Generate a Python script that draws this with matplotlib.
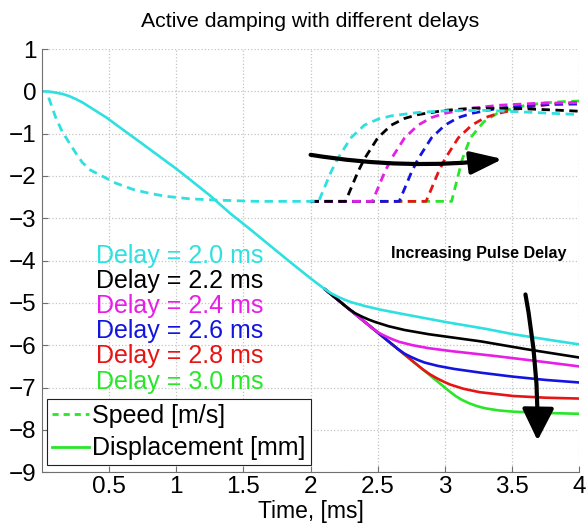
import numpy as np
import matplotlib.pyplot as plt
from matplotlib.lines import Line2D

plt.rcParams['font.family'] = ['Liberation Sans', 'DejaVu Sans']

# shared part of the curves (before any pulse)
base_speed_t = np.array([0.05, 0.1, 0.15, 0.2, 0.25, 0.3, 0.36, 0.44, 0.55, 0.68, 0.8, 0.92, 1.1, 1.3, 1.6, 2.0, 2.5, 3.0, 3.1])
base_speed_y = np.array([-0.15, -0.6, -0.95, -1.2, -1.45, -1.68, -1.86, -1.99, -2.17, -2.32, -2.41, -2.48, -2.54, -2.57, -2.6, -2.6, -2.6, -2.6, -2.6])

base_disp_t = np.array([0, 0.05, 0.1, 0.15, 0.2, 0.25, 0.3, 0.35, 0.42, 0.48, 0.6, 0.73, 0.85, 1.0, 1.1, 1.25, 1.4, 1.55, 1.7, 1.85, 2.0, 2.1,
                        2.2, 2.3, 2.4, 2.5, 2.6, 2.7, 2.8, 2.9, 3.0, 3.1])
base_disp_y = np.array([0, -0.005, -0.03, -0.06, -0.11, -0.18, -0.26, -0.36, -0.5, -0.62, -0.9, -1.2, -1.48, -1.83, -2.08, -2.46, -2.88, -3.26, -3.65, -4.04, -4.42, -4.66,
                        -4.92, -5.18, -5.44, -5.7, -5.96, -6.22, -6.48, -6.74, -7.0, -7.26])

delays = ['2.0', '2.2', '2.4', '2.6', '2.8', '3.0']
colors = ['#2fe0e0', 'black', '#e61ee6', '#1414e0', '#e61414', '#28e628']

# speed after the pulse, one per delay
speed_t = [
    [2.06, 2.1, 2.15, 2.2, 2.3, 2.4, 2.5, 2.6, 2.8, 3.0, 3.3, 3.6, 4.0],
    [2.26, 2.3, 2.35, 2.4, 2.5, 2.6, 2.7, 2.8, 3.0, 3.2, 3.5, 3.8, 4.0],
    [2.46, 2.5, 2.55, 2.6, 2.7, 2.8, 2.9, 3.0, 3.2, 3.4, 3.7, 4.0],
    [2.66, 2.7, 2.75, 2.8, 2.9, 3.0, 3.1, 3.2, 3.4, 3.6, 3.8, 4.0],
    [2.86, 2.9, 2.95, 3.0, 3.1, 3.2, 3.3, 3.4, 3.6, 3.8, 4.0],
    [3.05, 3.09, 3.13, 3.19, 3.29, 3.39, 3.49, 3.6, 3.75, 3.9, 4.0],
]
speed_y = [
    [-2.6, -2.3, -1.92, -1.6, -1.1, -0.8, -0.66, -0.58, -0.5, -0.46, -0.45, -0.49, -0.55],
    [-2.6, -2.3, -1.92, -1.6, -1.1, -0.8, -0.64, -0.55, -0.45, -0.4, -0.4, -0.44, -0.47],
    [-2.6, -2.3, -1.92, -1.6, -1.1, -0.8, -0.62, -0.52, -0.4, -0.33, -0.28, -0.27],
    [-2.6, -2.3, -1.92, -1.6, -1.1, -0.8, -0.62, -0.52, -0.4, -0.34, -0.31, -0.3],
    [-2.6, -2.3, -1.92, -1.6, -1.1, -0.8, -0.62, -0.52, -0.38, -0.3, -0.26],
    [-2.6, -2.1, -1.6, -1.1, -0.72, -0.52, -0.42, -0.33, -0.27, -0.24, -0.23],
]

# displacement after the pulse, one per delay
disp_t = [
    [2.1, 2.15, 2.2, 2.25, 2.3, 2.4, 2.52, 2.7, 3.02, 3.3, 3.51, 3.75, 4.0],
    [2.28, 2.33, 2.38, 2.43, 2.48, 2.58, 2.7, 2.88, 3.27, 3.6, 4.0],
    [2.46, 2.51, 2.56, 2.61, 2.66, 2.76, 2.88, 3.05, 3.39, 3.7, 4.0],
    [2.65, 2.7, 2.75, 2.8, 2.85, 2.95, 3.07, 3.27, 3.5, 3.75, 4.0],
    [2.84, 2.89, 2.94, 2.99, 3.04, 3.14, 3.26, 3.51, 3.75, 4.0],
    [3.03, 3.08, 3.12, 3.18, 3.24, 3.3, 3.4, 3.51, 3.75, 4.0],
]
disp_y = [
    [-4.66, -4.77, -4.85, -4.92, -4.98, -5.07, -5.16, -5.27, -5.46, -5.61, -5.74, -5.86, -5.98],
    [-5.13, -5.24, -5.32, -5.39, -5.45, -5.55, -5.64, -5.74, -5.91, -6.09, -6.29],
    [-5.6, -5.71, -5.79, -5.86, -5.92, -6.0, -6.07, -6.14, -6.26, -6.38, -6.5],
    [-6.09, -6.2, -6.28, -6.35, -6.41, -6.49, -6.56, -6.65, -6.74, -6.82, -6.88],
    [-6.58, -6.69, -6.78, -6.86, -6.93, -7.03, -7.11, -7.2, -7.24, -7.26],
    [-7.08, -7.2, -7.28, -7.37, -7.44, -7.49, -7.54, -7.57, -7.6, -7.62],
]


def join(bt, by, tt, ty, start):
	# shared part from `start` up to the pulse, then the curve's own tail
	keep = (bt >= start) & (bt < tt[0])
	return np.r_[bt[keep], tt], np.r_[by[keep], ty]


fig = plt.figure(figsize=(5.88, 5.27), dpi=100)
ax = fig.add_axes([0.0714, 0.104, 0.9136, 0.803])

# cyan carries the whole shared part, the others only join in near 2 ms
for i in reversed(range(len(delays))):
	start = 0 if i == 0 else 1.9
	t, y = join(base_speed_t, base_speed_y, np.array(speed_t[i]), np.array(speed_y[i]), start)
	ax.plot(t, y, color=colors[i], lw=2, linestyle=(0, (3, 2)))
for i in reversed(range(len(delays))):
	start = 0 if i == 0 else 2.05
	t, y = join(base_disp_t, base_disp_y, np.array(disp_t[i]), np.array(disp_y[i]), start)
	ax.plot(t, y, color=colors[i], lw=1.9, solid_capstyle='butt')

ax.set_xlim(0, 4)
ax.set_ylim(-9, 1)
ax.set_xticks([0.5, 1, 1.5, 2, 2.5, 3, 3.5, 4])
ax.set_xticklabels(['0.5', '1', '1.5', '2', '2.5', '3', '3.5', '4'])
ax.set_yticks(range(-9, 2))
ax.grid(True, linestyle=':', color='#c4c4c4', lw=0.9)
ax.tick_params(direction='in', length=4, labelsize=17.5, color='#707070', pad=4)
ax.tick_params(axis='x', pad=3)
for s in ['top', 'right']:
	ax.spines[s].set_visible(False)
for s in ['left', 'bottom']:
	ax.spines[s].set_color('#707070')

ax.set_title('Active damping with different delays', fontsize=15.3, pad=16)
ax.set_xlabel('Time, [ms]', fontsize=16.5, labelpad=1)

for i, d in enumerate(delays):
	ax.text(0.4, -3.88 - 0.596 * i, 'Delay = %s ms' % d, color=colors[i], fontsize=18, va='center')

ax.text(2.6, -3.83, 'Increasing Pulse Delay', fontsize=11.6, fontweight='bold', va='center')

ax.annotate('', xy=(3.43, -1.6), xytext=(2.0, -1.5),
            arrowprops=dict(arrowstyle='-|>,head_length=1.4,head_width=0.5', lw=3, color='black',
                            connectionstyle='arc3,rad=0.07', shrinkA=0, shrinkB=0, mutation_scale=14))
ax.annotate('', xy=(3.69, -8.25), xytext=(3.6, -4.8),
            arrowprops=dict(arrowstyle='-|>,head_length=1.4,head_width=0.7', lw=3, color='black',
                            connectionstyle='arc3,rad=-0.05', shrinkA=0, shrinkB=0, mutation_scale=14))

handles = [Line2D([], [], color=colors[5], lw=2, linestyle=(0, (2.2, 1.8))),
           Line2D([], [], color=colors[5], lw=2)]
leg = ax.legend(handles, ['Speed [m/s]', 'Displacement [mm]'], loc='lower left',
                bbox_to_anchor=(0.009, 0.016), borderaxespad=0, fontsize=18, handlelength=1.5,
                handletextpad=0.12, labelspacing=0.35, borderpad=0.2, fancybox=False, framealpha=1)
leg.get_frame().set_edgecolor('#202020')
leg.get_frame().set_linewidth(0.8)

fig.savefig('out.png')
